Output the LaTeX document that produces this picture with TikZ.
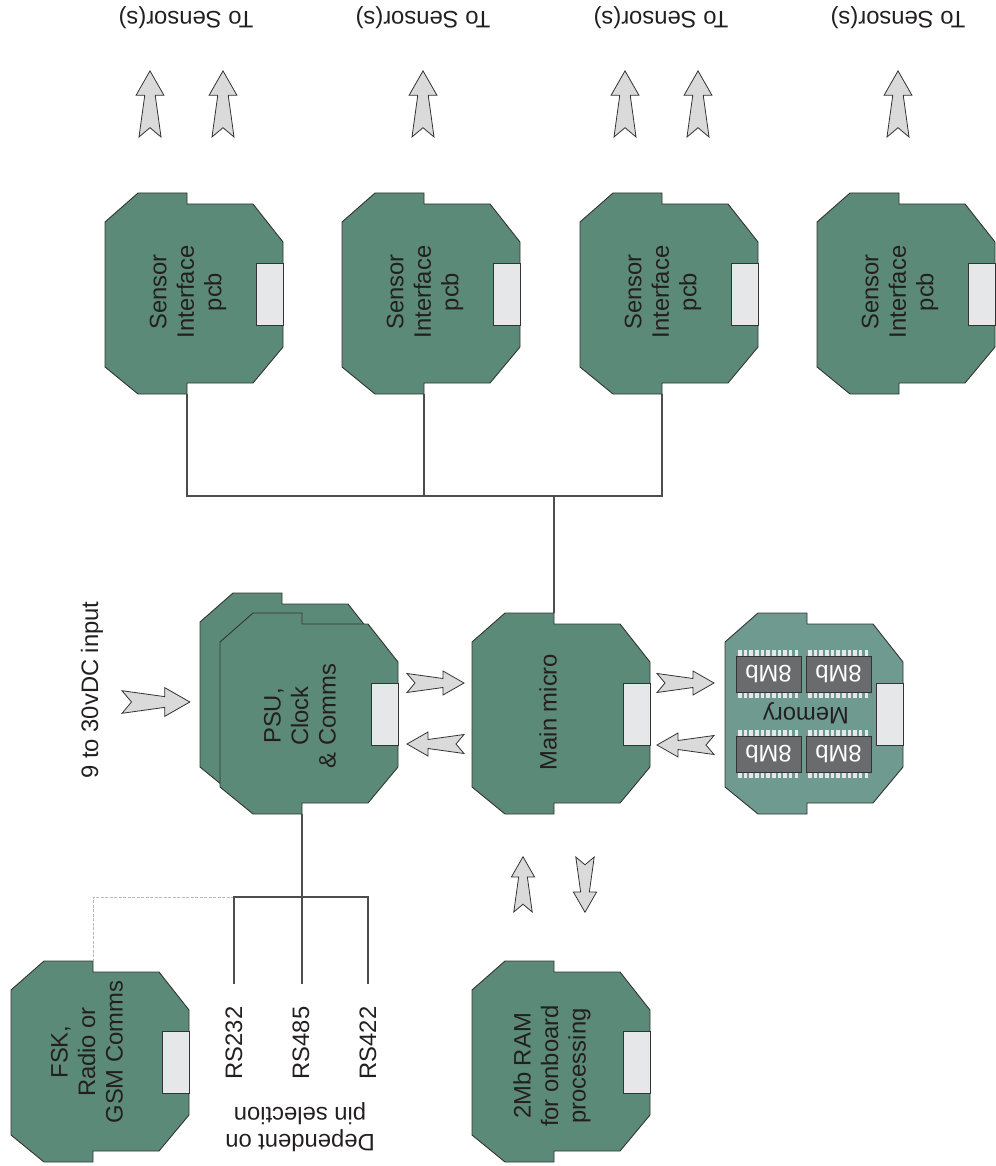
\documentclass[tikz,border=0pt]{standalone}
\usepackage{fontspec}
\setmainfont{Liberation Sans}
\definecolor{boardgreen}{HTML}{5C8A78}
\definecolor{memgreen}{HTML}{6E9A8F}
\definecolor{connfill}{HTML}{E6E7E8}
\definecolor{arrowgrey}{HTML}{DADADA}
\definecolor{chipgrey}{HTML}{6A6B6D}
\definecolor{edgegrey}{HTML}{333333}
\definecolor{wiregrey}{HTML}{4D4D4D}
\definecolor{textdark}{HTML}{231F20}
\tikzset{
  lbl/.style={font=\fontsize{23.8}{27.5}\selectfont, text=textdark, align=center, inner sep=0pt},
  wire/.style={draw=wiregrey, line width=1.1pt},
  dashwire/.style={draw=gray!55, line width=0.9pt, dash pattern=on 3pt off 1.5pt},
  boardedge/.style={draw=edgegrey, line width=0.9pt, line join=miter},
  arrowshape/.style={fill=arrowgrey, draw=edgegrey, line width=0.8pt, line join=miter},
  chipbox/.style={fill=chipgrey, draw=edgegrey, line width=0.5pt, minimum width=65pt, minimum height=36pt, inner sep=0pt, text=white, font=\fontsize{23.8}{27.5}\selectfont, rotate=180},
  pics/pcb/.style={code={
    \draw[boardedge, fill=#1] (33,0) -- (82,0) -- (82,11) -- (148,11) -- (178,49) -- (178,154) -- (148,190) -- (82,190) -- (82,201) -- (33,201) -- (0,174) -- (0,29) -- cycle;
    \draw[boardedge, fill=connfill] (151,70) rectangle (178,132);
    \coordinate (-top) at (82,0);
    \coordinate (-bot) at (82,201);
  }},
  pics/barrow/.style={code={
    \draw[arrowshape] (0,-9.5) -- (36,-4.5) -- (36,-12) -- (57,0) -- (36,12) -- (36,4.5) -- (0,9.5) -- (8,0) -- cycle;
  }},
}
\begin{document}
\begin{tikzpicture}[x=1pt,y=-1pt]
\useasboundingbox (0,0) rectangle (995,1166);

% sensor boards
\pic (s1) at (105,193) {pcb=boardgreen};
\pic (s2) at (342,193) {pcb=boardgreen};
\pic (s3) at (580,193) {pcb=boardgreen};
\pic (s4) at (817,193) {pcb=boardgreen};
\node[lbl, rotate=90] (s1t) at (188,292) {Sensor\\Interface\\pcb};
\node[lbl, rotate=90] (s2t) at (425,292) {Sensor\\Interface\\pcb};
\node[lbl, rotate=90] (s3t) at (663,292) {Sensor\\Interface\\pcb};
\node[lbl, rotate=90] (s4t) at (900,292) {Sensor\\Interface\\pcb};

% To sensors
\node[lbl, rotate=180] (ts1) at (186,18) {To Sensor(s)};
\node[lbl, rotate=180] (ts2) at (423,18) {To Sensor(s)};
\node[lbl, rotate=180] (ts3) at (661,18) {To Sensor(s)};
\node[lbl, rotate=180] (ts4) at (898,18) {To Sensor(s)};

\pic[rotate=90, scale=1.16] at (150,137) {barrow};
\pic[rotate=90, scale=1.16] at (223,137) {barrow};
\pic[rotate=90, scale=1.16] at (423,137) {barrow};
\pic[rotate=90, scale=1.16] at (625,137) {barrow};
\pic[rotate=90, scale=1.16] at (698,137) {barrow};
\pic[rotate=90, scale=1.16] at (898,137) {barrow};

% main micro, PSU, memory
\pic (mm) at (472,613) {pcb=boardgreen};
\node[lbl, rotate=90] (mmt) at (548,712) {Main micro};

\pic (psuback) at (200,593) {pcb=boardgreen};
\pic (psu) at (220,613) {pcb=boardgreen};
\node[lbl, rotate=90] (psut) at (300,716) {PSU,\\Clock\\\& Comms};

\pic (mem) at (725,613) {pcb=memgreen};
\node[lbl, rotate=180] (memt) at (806,713) {Memory};
\foreach \cx/\cy [count=\i] in {736/656, 806/656, 736/736, 806/736} {
  \foreach \k in {0,...,10} {
    \fill[connfill] (\cx+2+\k*5.65, \cy-6) rectangle ++(3.6,5.5);
    \fill[connfill] (\cx+2+\k*5.65, \cy+36.5) rectangle ++(3.6,5.5);
  }
  \node[chipbox] (chip\i) at (\cx+32.5, \cy+18) {8Mb};
}

% horizontal arrows
\pic at (407,683) {barrow};
\pic[rotate=180] at (464,744) {barrow};
\pic at (657,683) {barrow};
\pic[rotate=180] at (714,745) {barrow};

% input
\node[lbl, rotate=90] (vin) at (92,690) {9 to 30vDC input};
\pic[scale=1.19] at (122,702) {barrow};

% RAM
\pic (ram) at (472,961) {pcb=boardgreen};
\node[lbl, rotate=90] (ramt) at (552,1066) {2Mb RAM\\for onboard\\processing};
\pic[rotate=90, scale=0.97] at (523,912) {barrow};
\pic[rotate=-90, scale=0.97] at (585,857) {barrow};

% FSK
\pic (fsk) at (11,961) {pcb=boardgreen};
\node[lbl, rotate=90] (fskt) at (87,1052) {FSK,\\Radio or\\GSM Comms};

% sensor bus
\coordinate (bus) at (0,496);
\draw[wire] (s1-bot) -- (s1-bot |- bus) -- (s3-bot |- bus) -- (s3-bot);
\draw[wire] (s2-bot) -- (s2-bot |- bus);
\draw[wire] (mm-top) -- (mm-top |- bus);

% RS lines
\coordinate (rsbus) at (0,897);
\coordinate (r1) at (234,984);
\coordinate (r2) at (302,984);
\coordinate (r3) at (368,984);
\draw[dashwire] (r1 |- rsbus) -| (fsk-top);
\draw[wire] (r1) -- (r1 |- rsbus) -- (r3 |- rsbus) -- (r3);
\draw[wire] (psu-bot) -- (r2);
\node[lbl, rotate=90] (rs1) at (234,1043) {RS232};
\node[lbl, rotate=90] (rs2) at (301,1043) {RS485};
\node[lbl, rotate=90] (rs3) at (368,1043) {RS422};
\node[lbl, rotate=180] (dep) at (300,1127) {Dependent on\\pin selection};
\end{tikzpicture}
\end{document}
